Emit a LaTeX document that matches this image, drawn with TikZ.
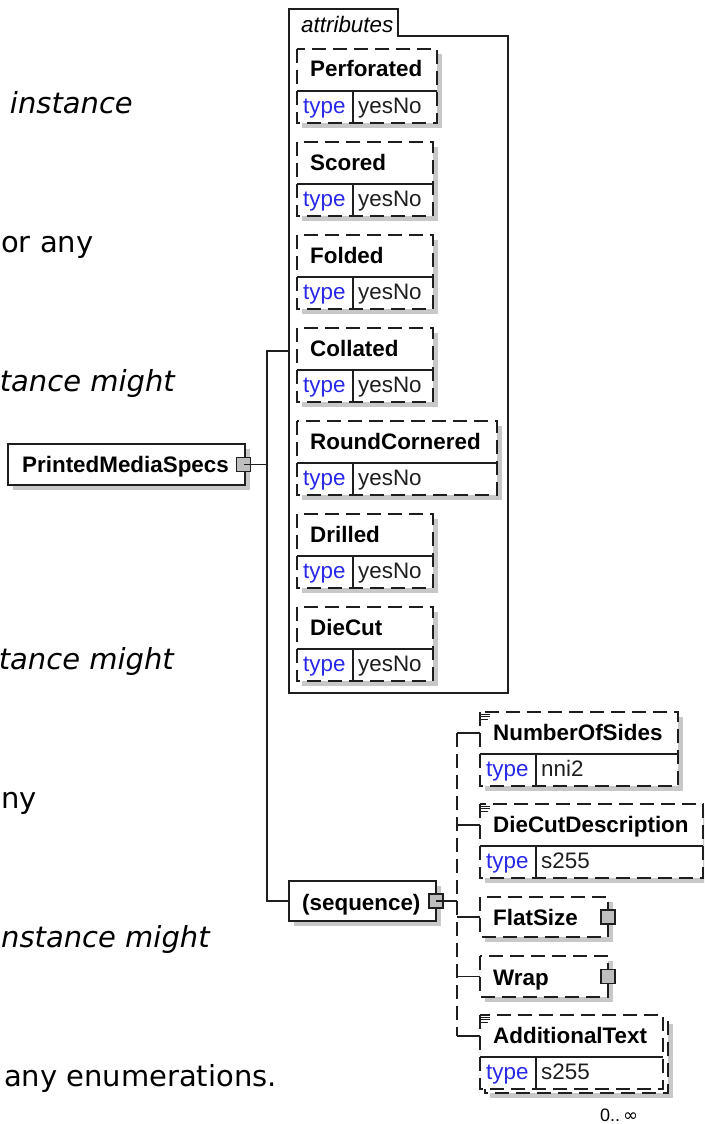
\documentclass[tikz,border=0pt]{standalone}
\usepackage{fontspec}
\setmainfont{Liberation Sans}
\newfontfamily\verd{DejaVu Sans}
\definecolor{linec}{RGB}{30,30,30}
\definecolor{shadowc}{RGB}{200,200,200}
\definecolor{portc}{RGB}{190,190,190}
\definecolor{typec}{RGB}{40,40,235}
\definecolor{valc}{RGB}{30,30,30}
\tikzset{
  ln/.style={draw=linec, line width=1.3pt},
  dsh/.style={ln, dash pattern=on 14pt off 7pt},
  cell/.style={fill=white, inner sep=0pt, outer sep=0pt, draw=none},
  solidbox/.style={ln, fill=white, inner sep=0pt, outer sep=0pt},
  nm/.style={anchor=base west, inner sep=0pt, font=\fontsize{22.4}{26}\selectfont\bfseries},
  tp/.style={anchor=base west, inner sep=0pt, font=\fontsize{22.4}{26}\selectfont, text=typec},
  vl/.style={anchor=base west, inner sep=0pt, font=\fontsize{22.4}{26}\selectfont, text=valc},
  port/.style={ln, fill=portc, minimum size=14pt, inner sep=0pt, outer sep=0pt},
  prose/.style={anchor=base east, inner sep=0pt, font=\verd\fontsize{29}{34}\selectfont},
  prosew/.style={prose, anchor=base west},
}
% shadow: left, top, right, bottom
\newcommand{\shad}[4]{\fill[shadowc] (#1+5,#2+5) rectangle (#3+5,#4+5);}
% typed box: id, left, top, width, name, value
\newcommand{\typedbox}[6]{%
  \node[cell, minimum width=#4pt, minimum height=42pt, anchor=north west] (#1) at (#2,#3) {};
  \node[cell, minimum width=#4pt, minimum height=32pt, anchor=north west] (#1-t) at (#2,#3+42) {};
  \draw[dsh] (#1.north west) rectangle (#1-t.south east);
  \draw[ln] (#1.south west) -- (#1.south east);
  \draw[ln] (#2+56,#3+42) -- (#2+56,#3+74);
  \node[nm] (#1-n) at (#2+13,#3+28) {#5};
  \node[tp] (#1-k) at (#2+6,#3+64) {type};
  \node[vl] (#1-v) at (#2+61,#3+64) {#6};
}
\newcommand{\docicon}[2]{\draw[linec, line width=0.9pt] (#1+1,#2+2) -- (#1+10,#2+2) (#1+1,#2+4.5) -- (#1+10,#2+4.5) (#1+1,#2+7) -- (#1+8,#2+7);}

\begin{document}
\begin{tikzpicture}[x=1pt,y=-1pt]
\useasboundingbox (0,0) rectangle (704,1124);
\clip (0,0) rectangle (704,1124);

% prose fragments on the left
\node[prose] (p1) at (133,113) {\itshape instance};
\node[prosew] (p2) at (1,252) {or any};
\node[prose] (p3) at (175,391) {\itshape tance might};
\node[prose] (p4) at (174,669) {\itshape tance might};
\node[prosew] (p5) at (1,808) {ny};
\node[prosew] (p6) at (1,947) {\itshape nstance might};
\node[prose] (p7) at (277,1086) {any enumerations.};

% attributes group
\node[inner sep=0pt, outer sep=0pt, minimum width=219pt, minimum height=684pt, anchor=north west] (attrs) at (289,9) {};
\draw[ln] (289,9) -- (398,9) -- (398,36) -- (508,36) -- (508,693) -- (289,693) -- cycle;
\node[anchor=base west, inner sep=0pt, font=\fontsize{22.4}{26}\selectfont\itshape] (attrlbl) at (301,33) {attributes};

\shad{297}{49}{437}{123}   \typedbox{perf}{297}{49}{140}{Perforated}{yesNo}
\shad{297}{142}{433}{216}  \typedbox{scor}{297}{142}{136}{Scored}{yesNo}
\shad{297}{235}{433}{309}  \typedbox{fold}{297}{235}{136}{Folded}{yesNo}
\shad{297}{328}{433}{402}  \typedbox{coll}{297}{328}{136}{Collated}{yesNo}
\shad{297}{421}{497}{495}  \typedbox{rndc}{297}{421}{200}{RoundCornered}{yesNo}
\shad{297}{514}{433}{588}  \typedbox{dril}{297}{514}{136}{Drilled}{yesNo}
\shad{297}{607}{433}{681}  \typedbox{diec}{297}{607}{136}{DieCut}{yesNo}

% root element
\shad{8}{444}{245}{485}
\node[solidbox, minimum width=237pt, minimum height=41pt, anchor=north west] (pms) at (8,444) {};
\node[nm] (pmsl) at (22,472) {PrintedMediaSpecs};
\node[port] (pmsp) at ([xshift=-1.5pt]pms.east) {};

% sequence
\shad{289}{881}{436}{921}
\node[solidbox, minimum width=147pt, minimum height=40pt, anchor=north west] (seq) at (289,881) {};
\node[nm] (seql) at (302,910) {(sequence)};
\node[port] (seqp) at (seq.east) {};

% trunk connectors
\coordinate (trunk) at (267,464.5);
\draw[ln] (pmsp.center) -- (trunk);
\draw[ln] (attrs.west) -| (trunk);
\draw[ln] (trunk) |- (seq.west);

% sequence children
\shad{480}{712}{678}{786}  \typedbox{nos}{480}{712}{198}{NumberOfSides}{nni2}
\docicon{480}{712}
\shad{480}{804}{703}{878}  \typedbox{dcd}{480}{804}{223}{DieCutDescription}{s255}
\docicon{480}{804}

\shad{480}{897}{608}{937}
\node[cell, minimum width=128pt, minimum height=40pt, anchor=north west] (flat) at (480,897) {};
\draw[dsh] (flat.north west) rectangle (flat.south east);
\node[nm] (flatl) at (493,925) {FlatSize};
\node[port] (flatp) at (flat.east) {};

\shad{480}{956}{608}{997}
\node[cell, minimum width=128pt, minimum height=41pt, anchor=north west] (wrap) at (480,956) {};
\draw[dsh] (wrap.north west) rectangle (wrap.south east);
\node[nm] (wrapl) at (493,985) {Wrap};
\node[port] (wrapp) at (wrap.east) {};

\shad{485}{1019}{668}{1093}
\fill[white] (485,1019) rectangle (668,1093);
\draw[dsh] (485,1019) rectangle (668,1093);
\typedbox{at}{480}{1015}{183}{AdditionalText}{s255}
\docicon{480}{1015}
\node[anchor=base west, inner sep=0pt, font=\fontsize{18}{20}\selectfont] (occ) at (600,1121) {0..\,{\verd ∞}};

\coordinate (strunk) at (457,901);
\draw[ln] (seqp.center) -- (strunk);
\draw[dsh] (nos.west -| strunk) -- (at.west -| strunk);
\draw[ln] (nos.west -| strunk) -- (nos.west);
\draw[ln] (dcd.west -| strunk) -- (dcd.west);
\draw[ln] (flat.west -| strunk) -- (flat.west);
\draw[ln] (wrap.west -| strunk) -- (wrap.west);
\draw[ln] (at.west -| strunk) -- (at.west);
\end{tikzpicture}
\end{document}
